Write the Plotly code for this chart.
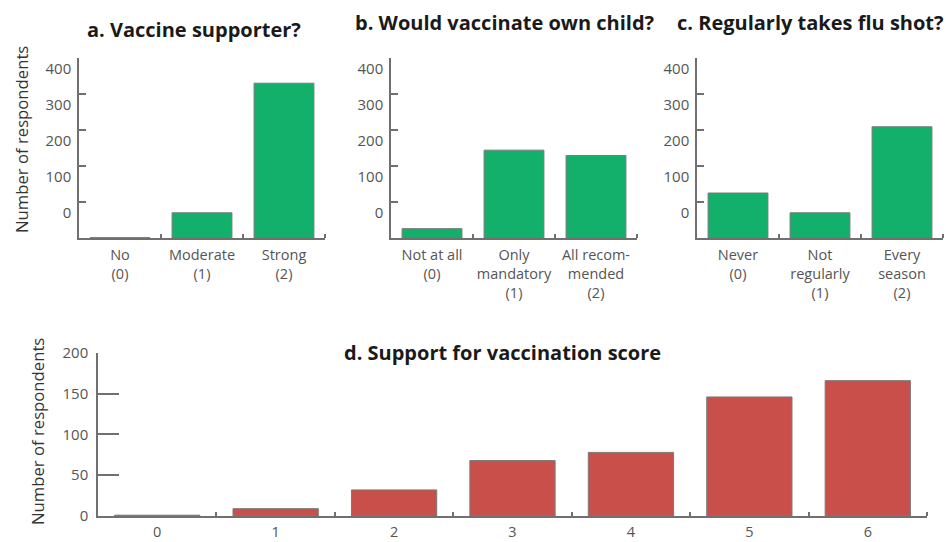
import plotly.graph_objects as go

W, H = 946, 542

# ---- data ----
a_labels = ["No<br>(0)", "Moderate<br>(1)", "Strong<br>(2)"]
a_values = [1, 70, 430]
b_labels = ["Not at all<br>(0)", "Only<br>mandatory<br>(1)", "All recom-<br>mended<br>(2)"]
b_values = [26, 244, 229]
c_labels = ["Never<br>(0)", "Not<br>regularly<br>(1)", "Every<br>season<br>(2)"]
c_values = [125, 70, 309]
d_labels = ["0", "1", "2", "3", "4", "5", "6"]
d_values = [1, 9, 32, 68, 78, 146, 166]

top_ytick_text = ["0", "100", "200", "300", "400"]
top_ytick_pos = [70, 170, 270, 370, 470]
top_ytick_marks = [100, 200, 300, 400]
d_ytick_vals = [0, 50, 100, 150, 200]

titles = ["a. Vaccine supporter?", "b. Would vaccinate own child?",
          "c. Regularly takes flu shot?", "d. Support for vaccination score"]

GREEN = "#12b06a"
RED = "#c9504a"
AX = "#707070"
TXT = "#555555"
FONT = "Open Sans"

def px_x(p):
    return p / W

def px_y(p):
    return 1 - p / H

fig = go.Figure()

panels = [
    (a_labels, a_values, GREEN, "x", "y", (79, 325)),
    (b_labels, b_values, GREEN, "x2", "y2", (391, 637)),
    (c_labels, c_values, GREEN, "x3", "y3", (697, 943)),
]

for i, (labs, vals, col, xa, ya, (x0, x1)) in enumerate(panels):
    n = len(vals)
    fig.add_trace(go.Bar(
        x=list(range(n)), y=vals, width=0.73,
        marker=dict(color=col, line=dict(color="#7a7a7a", width=1)),
        xaxis=xa, yaxis=ya, showlegend=False, hoverinfo="y",
    ))
    sfx = "" if i == 0 else str(i + 1)
    fig.layout["xaxis" + sfx] = dict(
        domain=[px_x(x0), px_x(x1)], anchor=ya, range=[-0.5, n - 0.5],
        tickmode="array", tickvals=list(range(n)), ticktext=labs, ticks="",
        ticklabelstandoff=3,
        showline=True, linecolor=AX, linewidth=1.5, showgrid=False, zeroline=False,
        tickfont=dict(family=FONT, size=14.5, color=TXT), automargin=False,
        minor=dict(tickmode="array", tickvals=[k + 0.5 for k in range(n)],
                   ticks="inside", ticklen=4, tickwidth=1.5, tickcolor=AX, showgrid=False),
        fixedrange=True,
    )
    fig.layout["yaxis" + sfx] = dict(
        domain=[px_y(238), px_y(58)], anchor=xa, range=[0, 500],
        tickmode="array", tickvals=top_ytick_pos, ticktext=top_ytick_text, ticks="",
        ticklabelstandoff=3,
        showline=True, linecolor=AX, linewidth=1.5, showgrid=False, zeroline=False,
        tickfont=dict(family=FONT, size=15, color=TXT), automargin=False,
        minor=dict(tickmode="array", tickvals=top_ytick_marks,
                   ticks="inside", ticklen=7, tickwidth=1.5, tickcolor=AX, showgrid=False),
        fixedrange=True,
    )

# panel d
fig.add_trace(go.Bar(
    x=list(range(len(d_values))), y=d_values, width=0.72,
    marker=dict(color=RED, line=dict(color="#7a7a7a", width=1)),
    xaxis="x4", yaxis="y4", showlegend=False, hoverinfo="y",
))
nd = len(d_values)
fig.layout["xaxis4"] = dict(
    domain=[px_x(98), px_x(927)], anchor="y4", range=[-0.5, nd - 0.5],
    tickmode="array", tickvals=list(range(nd)), ticktext=d_labels, ticks="",
    ticklabelstandoff=2,
    showline=True, linecolor=AX, linewidth=1.5, showgrid=False, zeroline=False,
    tickfont=dict(family=FONT, size=14.5, color=TXT), automargin=False,
    minor=dict(tickmode="array", tickvals=[k + 0.5 for k in range(nd)],
               ticks="inside", ticklen=4, tickwidth=1.5, tickcolor=AX, showgrid=False),
    fixedrange=True,
)
fig.layout["yaxis4"] = dict(
    domain=[px_y(516), px_y(352.5)], anchor="x4", range=[0, 200.5],
    tickmode="array", tickvals=d_ytick_vals, ticks="inside", ticklen=21,
    tickwidth=1.5, tickcolor=AX, ticklabelstandoff=5,
    showline=True, linecolor=AX, linewidth=1.5, showgrid=False, zeroline=False,
    tickfont=dict(family=FONT, size=15, color=TXT), automargin=False,
    fixedrange=True,
)

ann = []
title_pos = [(194, 29), (505, 22), (810, 22), (502, 352)]
for t, (x, y) in zip(titles, title_pos):
    ann.append(dict(text="<b>" + t + "</b>", x=px_x(x), y=px_y(y), xref="paper", yref="paper",
                    showarrow=False, xanchor="center", yanchor="middle",
                    font=dict(family=FONT, size=20, color="#1a1a1a")))
for (x, y) in [(21, 140), (37, 432)]:
    ann.append(dict(text="Number of respondents", x=px_x(x), y=px_y(y), xref="paper", yref="paper",
                    showarrow=False, xanchor="center", yanchor="middle", textangle=-90,
                    font=dict(family=FONT, size=16.7, color="#333333")))

fig.update_layout(
    width=W, height=H, margin=dict(l=0, r=0, t=0, b=0),
    paper_bgcolor="white", plot_bgcolor="white", annotations=ann,
    bargap=0.27,
)

fig.write_html("out.html", config={"displayModeBar": False},
               post_script="document.body.style.margin='0px';document.body.style.overflow='hidden';")
